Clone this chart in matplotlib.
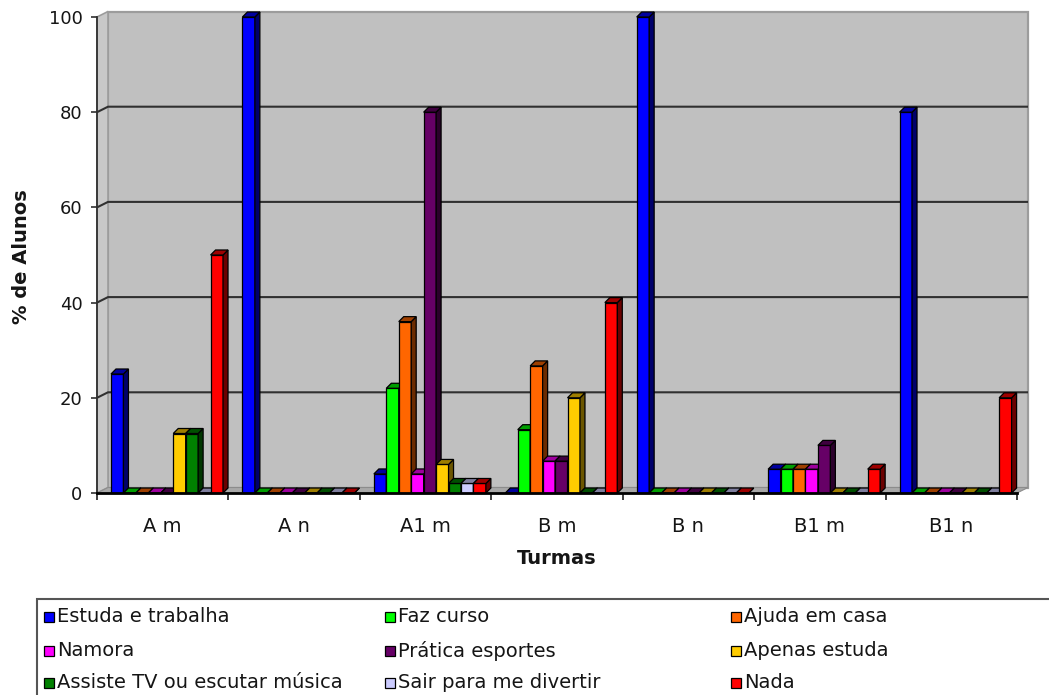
import matplotlib
matplotlib.use("Agg")
import matplotlib.pyplot as plt
from matplotlib.patches import Polygon, Rectangle
from matplotlib.colors import to_rgb
import numpy as np

# Classes (Turmas)
turmas = ["A m", "A n", "A1 m", "B m", "B n", "B1 m", "B1 n"]

# Percentage of students per activity, one value per class
estuda_e_trabalha = [25, 100, 4, 0, 100, 5, 80]
faz_curso = [0, 0, 22, 13.3, 0, 5, 0]
ajuda_em_casa = [0, 0, 36, 26.7, 0, 5, 0]
namora = [0, 0, 4, 6.7, 0, 5, 0]
pratica_esportes = [0, 0, 80, 6.7, 0, 10, 0]
apenas_estuda = [12.5, 0, 6, 20, 0, 0, 0]
assiste_tv = [12.5, 0, 2, 0, 0, 0, 0]
sair_divertir = [0, 0, 2, 0, 0, 0, 0]
nada = [50, 0, 2, 40, 0, 5, 20]

series_names = ["Estuda e trabalha", "Faz curso", "Ajuda em casa",
                "Namora", "Prática esportes", "Apenas estuda",
                "Assiste TV ou escutar música", "Sair para me divertir", "Nada"]
series_values = [estuda_e_trabalha, faz_curso, ajuda_em_casa, namora,
                 pratica_esportes, apenas_estuda, assiste_tv, sair_divertir, nada]
series_colors = ["#0000FF", "#00FF00", "#FF6600", "#FF00FF", "#660066",
                 "#FFCC00", "#008000", "#CCCCFF", "#FF0000"]

y_ticks = [0, 20, 40, 60, 80, 100]

plt.rcParams["font.family"] = ["DejaVu Sans"]
TXT = "#151515"

W, H = 1049, 695
fig = plt.figure(figsize=(W / 100, H / 100), dpi=100)
ax_left, ax_right, ax_bottom, ax_top = 97, 1017, 493, 17
ax = fig.add_axes([ax_left / W, (H - ax_bottom) / H,
                   (ax_right - ax_left) / W, (ax_bottom - ax_top) / H])
n = len(turmas)
ax.set_xlim(0, n)
ax.set_ylim(0, 100)
ax.patch.set_visible(False)

# pixel -> data conversion for the pseudo-3D depth offsets
px_x = n / (ax_right - ax_left)
px_y = 100 / (ax_bottom - ax_top)
wall_dx, wall_dy = 11 * px_x, 5.5 * px_y
bar_dx, bar_dy = 5 * px_x, 5 * px_y


def shade(c, f):
    r, g, b = to_rgb(c)
    return (r * f, g * f, b * f)


# walls and floor
ymax = y_ticks[-1]
back = Polygon([(wall_dx, wall_dy), (n + wall_dx, wall_dy),
                (n + wall_dx, ymax + wall_dy), (wall_dx, ymax + wall_dy)],
               closed=True, fc="#C0C0C0", ec="#9C9C9C", lw=1.6, zorder=0, clip_on=False)
side = Polygon([(0, 0), (wall_dx, wall_dy), (wall_dx, ymax + wall_dy), (0, ymax)],
               closed=True, fc="#C8C8C8", ec="#9C9C9C", lw=1.2, zorder=0.1, clip_on=False)
floor = Polygon([(0, 0), (n, 0), (n + wall_dx, wall_dy), (wall_dx, wall_dy)],
                closed=True, fc="#A8A8A8", ec="#8C8C8C", lw=0.8, zorder=0.2, clip_on=False)
for p in (back, side, floor):
    ax.add_patch(p)

# gridlines on the side and back walls
for v in y_ticks[1:-1]:
    ax.plot([0, wall_dx, n + wall_dx], [v, v + wall_dy, v + wall_dy],
            color="#303030", lw=1.5, zorder=0.5, clip_on=False, solid_capstyle="butt")

# clustered pseudo-3D columns
bw = 0.0947
start = 0.1065
base = np.arange(n)
for j, (vals, col) in enumerate(zip(series_values, series_colors)):
    lefts = base + start + j * bw
    z = 3 + j
    ax.bar(lefts, vals, width=bw, align="edge", color=col, edgecolor="black",
           linewidth=0.9, zorder=z, clip_on=False)
    for l, h in zip(lefts, vals):
        r = l + bw
        top = Polygon([(l, h), (l + bar_dx, h + bar_dy), (r + bar_dx, h + bar_dy), (r, h)],
                      closed=True, fc=shade(col, 0.62), ec="black", lw=0.9,
                      zorder=z, clip_on=False)
        sidef = Polygon([(r, 0), (r + bar_dx, bar_dy), (r + bar_dx, h + bar_dy), (r, h)],
                        closed=True, fc=shade(col, 0.42), ec="black", lw=0.9,
                        zorder=z, clip_on=False)
        ax.add_patch(sidef)
        ax.add_patch(top)

# axes lines and ticks
for s in ("top", "right"):
    ax.spines[s].set_visible(False)
ax.spines["left"].set_color("#303030")
ax.spines["left"].set_linewidth(1.3)
ax.spines["bottom"].set_color("black")
ax.spines["bottom"].set_linewidth(2.0)
ax.spines["left"].set_zorder(20)
ax.spines["bottom"].set_zorder(20)

ax.set_yticks(y_ticks)
ax.set_yticklabels([str(v) for v in y_ticks])
ax.tick_params(axis="y", direction="out", length=4.5, width=1.2, color="#303030",
               labelsize=13, labelcolor=TXT, pad=6)

ax.set_xticks(np.arange(n + 1))
ax.set_xticklabels([])
ax.set_xticks(base + 0.5, minor=True)
ax.set_xticklabels(turmas, minor=True)
ax.tick_params(axis="x", which="major", direction="out", length=5, width=1.3,
               color="#303030")
ax.tick_params(axis="x", which="minor", length=0, labelsize=14, labelcolor=TXT, pad=17)

fig.text(557 / W, 1 - 558 / H, "Turmas", ha="center", va="center",
         fontsize=14, fontweight="bold", color=TXT)
fig.text(22 / W, 1 - 257 / H, "% de Alunos", ha="center", va="center",
         rotation=90, fontsize=14, fontweight="bold", color=TXT)

# legend box
fig.patches.append(Rectangle((37 / W, -0.05), 1.1, 1 - 599 / H + 0.05,
                             transform=fig.transFigure, fill=False,
                             ec="#555555", lw=1.5, clip_on=False))
marker_x = [44, 385, 731]
text_x = [57, 398, 744]
row_y = [617, 651, 683]
msize = 10
for idx, (name, col) in enumerate(zip(series_names, series_colors)):
    r, c = divmod(idx, 3)
    yc = row_y[r]
    fig.patches.append(Rectangle((marker_x[c] / W, 1 - (yc + msize / 2) / H),
                                 msize / W, msize / H,
                                 transform=fig.transFigure, fc=col, ec="black", lw=0.9))
    fig.text(text_x[c] / W, 1 - yc / H, name, ha="left", va="center",
             fontsize=14, color=TXT)

fig.savefig("out.png", dpi=100, facecolor="white")
